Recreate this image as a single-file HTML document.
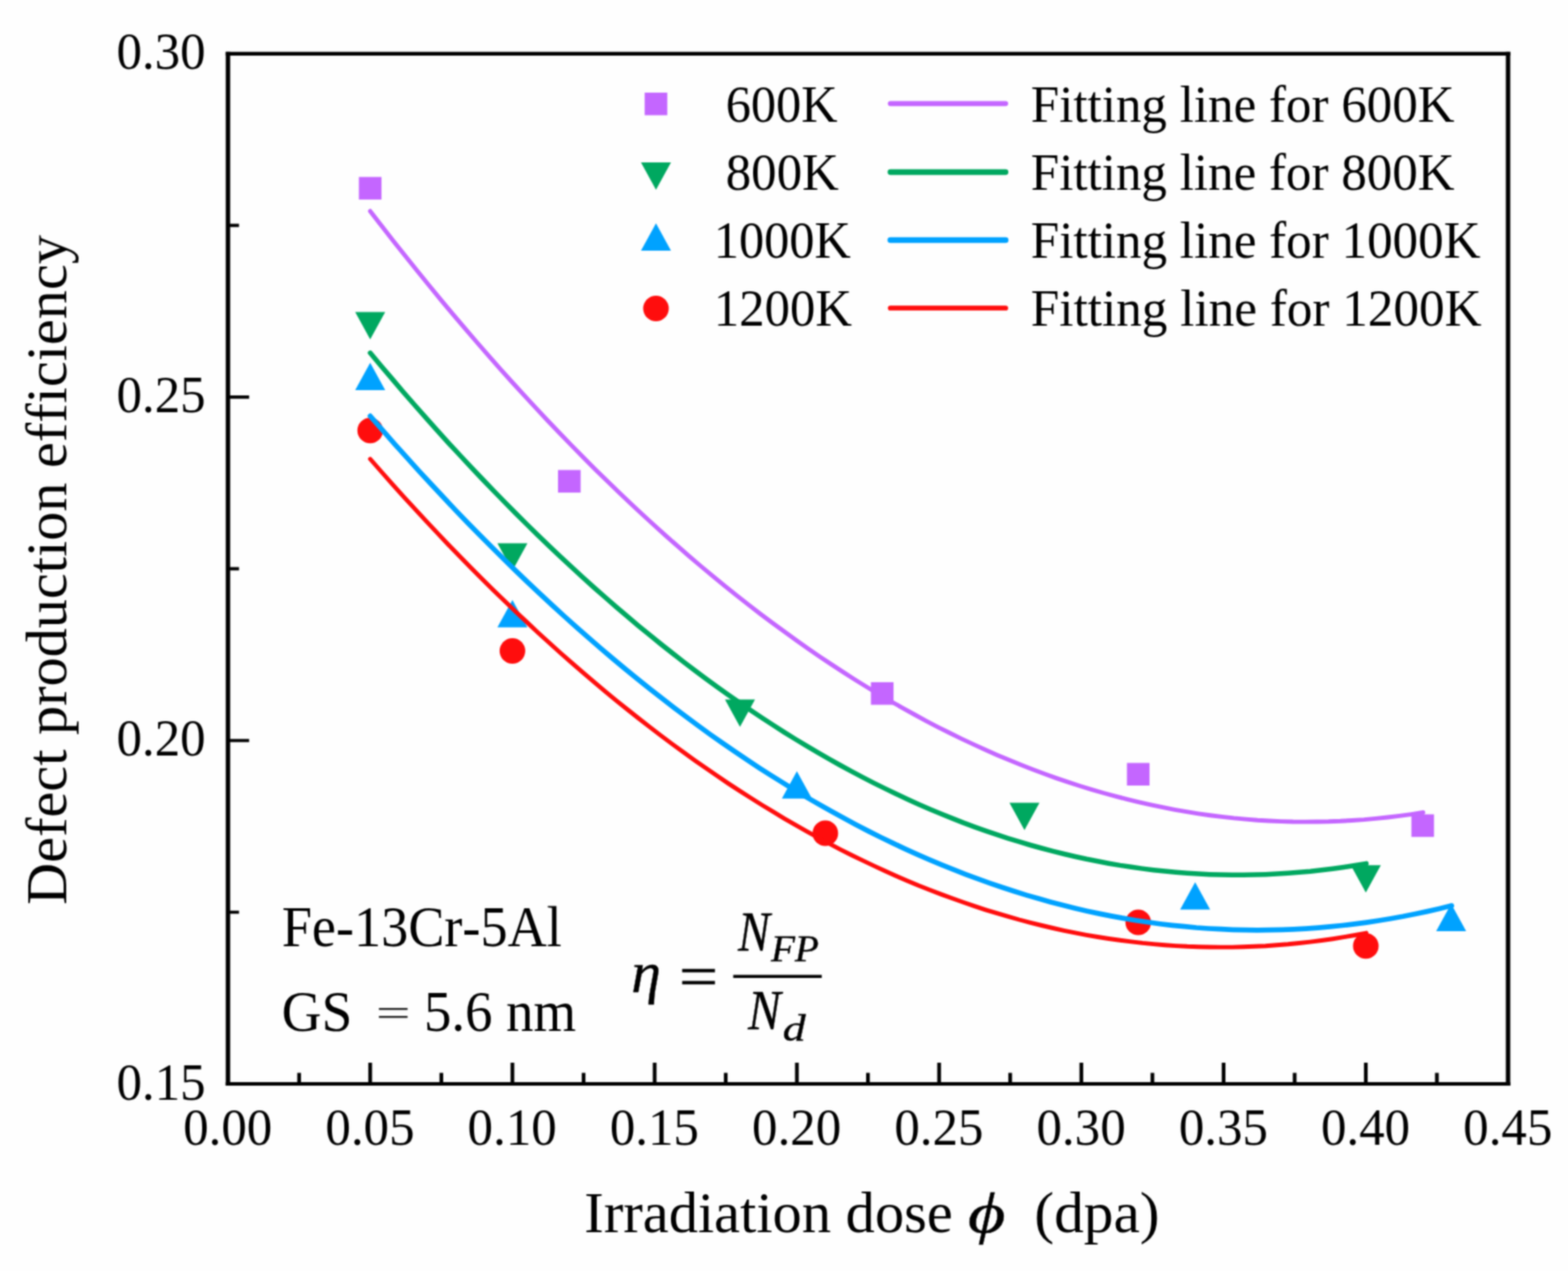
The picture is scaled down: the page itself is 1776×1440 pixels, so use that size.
<!DOCTYPE html>
<html lang="en"><head><meta charset="utf-8"><title>Defect production efficiency</title>
<style>html,body{margin:0;padding:0;background:#fefefe;}body{width:1776px;height:1440px;}svg{display:block;}</style>
</head><body>
<svg width="1776" height="1440" viewBox="0 0 1776 1440" font-family='"Liberation Serif", serif' fill="#000">
<filter id="soft" x="0" y="0" width="1776" height="1440" filterUnits="userSpaceOnUse" color-interpolation-filters="sRGB"><feConvolveMatrix order="5" kernelMatrix="0.00090 0.00705 0.01410 0.00705 0.00090 0.00705 0.05522 0.11045 0.05522 0.00705 0.01410 0.11045 0.22090 0.11045 0.01410 0.00705 0.05522 0.11045 0.05522 0.00705 0.00090 0.00705 0.01410 0.00705 0.00090" divisor="1" edgeMode="duplicate" preserveAlpha="false"/></filter>
<g filter="url(#soft)">
<rect width="1776" height="1440" fill="#fefefe"/>
<rect x="406.50" y="200.50" width="25.6" height="25.6" fill="#c466ff"/>
<rect x="632.04" y="532.50" width="25.6" height="25.6" fill="#c466ff"/>
<rect x="986.46" y="772.90" width="25.6" height="25.6" fill="#c466ff"/>
<rect x="1276.44" y="864.40" width="25.6" height="25.6" fill="#c466ff"/>
<rect x="1598.64" y="922.60" width="25.6" height="25.6" fill="#c466ff"/>
<polygon points="402.30,353.50 436.30,353.50 419.30,384.50" fill="#00a860"/>
<polygon points="563.40,615.50 597.40,615.50 580.40,646.50" fill="#00a860"/>
<polygon points="821.16,792.50 855.16,792.50 838.16,823.50" fill="#00a860"/>
<polygon points="1143.36,909.50 1177.36,909.50 1160.36,940.50" fill="#00a860"/>
<polygon points="1530.00,980.30 1564.00,980.30 1547.00,1011.30" fill="#00a860"/>
<polygon points="402.30,442.10 436.30,442.10 419.30,411.10" fill="#00a2ff"/>
<polygon points="563.40,710.70 597.40,710.70 580.40,679.70" fill="#00a2ff"/>
<polygon points="885.60,904.70 919.60,904.70 902.60,873.70" fill="#00a2ff"/>
<polygon points="1336.68,1030.50 1370.68,1030.50 1353.68,999.50" fill="#00a2ff"/>
<polygon points="1626.66,1055.10 1660.66,1055.10 1643.66,1024.10" fill="#00a2ff"/>
<circle cx="419.30" cy="487.70" r="14.5" fill="#ff0d0d"/>
<circle cx="580.40" cy="737.40" r="14.5" fill="#ff0d0d"/>
<circle cx="934.82" cy="944.00" r="14.5" fill="#ff0d0d"/>
<circle cx="1289.24" cy="1045.00" r="14.5" fill="#ff0d0d"/>
<circle cx="1547.00" cy="1071.70" r="14.5" fill="#ff0d0d"/>
<path d="M419.3,239.2 L432.7,256.6 L446.1,273.7 L459.5,290.6 L472.9,307.3 L486.3,323.8 L499.7,340.1 L513.1,356.1 L526.5,371.9 L539.9,387.5 L553.3,402.9 L566.7,418.1 L580.1,433.0 L593.5,447.7 L606.9,462.2 L620.3,476.5 L633.7,490.5 L647.1,504.4 L660.5,518.0 L673.9,531.4 L687.3,544.6 L700.7,557.5 L714.1,570.2 L727.5,582.7 L740.9,595.0 L754.3,607.1 L767.7,618.9 L781.1,630.6 L794.5,642.0 L807.9,653.2 L821.3,664.1 L834.7,674.9 L848.1,685.4 L861.5,695.7 L874.9,705.8 L888.3,715.6 L901.7,725.3 L915.1,734.7 L928.5,743.9 L941.9,752.9 L955.3,761.6 L968.7,770.2 L982.1,778.5 L995.5,786.6 L1008.9,794.5 L1022.3,802.1 L1035.7,809.5 L1049.1,816.8 L1062.5,823.8 L1075.9,830.5 L1089.3,837.1 L1102.7,843.4 L1116.1,849.5 L1129.5,855.4 L1142.9,861.1 L1156.3,866.5 L1169.7,871.8 L1183.1,876.8 L1196.5,881.6 L1209.9,886.1 L1223.3,890.5 L1236.7,894.6 L1250.1,898.5 L1263.5,902.2 L1276.9,905.6 L1290.3,908.9 L1303.7,911.9 L1317.1,914.7 L1330.5,917.3 L1343.9,919.6 L1357.3,921.8 L1370.7,923.7 L1384.1,925.4 L1397.5,926.9 L1410.9,928.1 L1424.3,929.2 L1437.7,930.0 L1451.1,930.6 L1464.5,931.0 L1477.9,931.1 L1491.3,931.0 L1504.7,930.8 L1518.1,930.3 L1531.5,929.5 L1544.9,928.6 L1558.3,927.4 L1571.7,926.0 L1585.1,924.4 L1598.5,922.6 L1611.9,920.5" fill="none" stroke="#c466ff" stroke-width="4.9" stroke-linecap="round" stroke-linejoin="round"/>
<path d="M419.3,399.8 L432.0,414.9 L444.7,429.9 L457.3,444.7 L470.0,459.2 L482.7,473.6 L495.4,487.8 L508.0,501.8 L520.7,515.5 L533.4,529.1 L546.1,542.5 L558.7,555.7 L571.4,568.7 L584.1,581.5 L596.8,594.1 L609.4,606.5 L622.1,618.7 L634.8,630.7 L647.5,642.5 L660.2,654.2 L672.8,665.6 L685.5,676.8 L698.2,687.8 L710.9,698.7 L723.5,709.3 L736.2,719.7 L748.9,730.0 L761.6,740.0 L774.2,749.9 L786.9,759.5 L799.6,769.0 L812.3,778.2 L824.9,787.3 L837.6,796.1 L850.3,804.8 L863.0,813.3 L875.7,821.5 L888.3,829.6 L901.0,837.5 L913.7,845.2 L926.4,852.7 L939.0,859.9 L951.7,867.0 L964.4,873.9 L977.1,880.6 L989.7,887.1 L1002.4,893.4 L1015.1,899.5 L1027.8,905.5 L1040.4,911.2 L1053.1,916.7 L1065.8,922.0 L1078.5,927.1 L1091.1,932.1 L1103.8,936.8 L1116.5,941.3 L1129.2,945.7 L1141.9,949.8 L1154.5,953.7 L1167.2,957.5 L1179.9,961.0 L1192.6,964.4 L1205.2,967.5 L1217.9,970.5 L1230.6,973.3 L1243.3,975.8 L1255.9,978.2 L1268.6,980.4 L1281.3,982.3 L1294.0,984.1 L1306.6,985.7 L1319.3,987.1 L1332.0,988.3 L1344.7,989.3 L1357.4,990.1 L1370.0,990.7 L1382.7,991.1 L1395.4,991.3 L1408.1,991.3 L1420.7,991.1 L1433.4,990.7 L1446.1,990.1 L1458.8,989.3 L1471.4,988.3 L1484.1,987.2 L1496.8,985.8 L1509.5,984.2 L1522.1,982.5 L1534.8,980.5 L1547.5,978.4" fill="none" stroke="#00a860" stroke-width="5.5" stroke-linecap="round" stroke-linejoin="round"/>
<path d="M419.3,471.3 L433.1,487.2 L446.8,502.8 L460.6,518.2 L474.3,533.3 L488.1,548.3 L501.9,563.0 L515.6,577.6 L529.4,591.9 L543.2,606.0 L556.9,619.8 L570.7,633.5 L584.4,646.9 L598.2,660.1 L612.0,673.1 L625.7,685.9 L639.5,698.5 L653.3,710.8 L667.0,722.9 L680.8,734.8 L694.5,746.5 L708.3,758.0 L722.1,769.2 L735.8,780.3 L749.6,791.1 L763.4,801.7 L777.1,812.1 L790.9,822.2 L804.6,832.2 L818.4,841.9 L832.2,851.4 L845.9,860.7 L859.7,869.8 L873.5,878.6 L887.2,887.2 L901.0,895.7 L914.7,903.9 L928.5,911.8 L942.3,919.6 L956.0,927.1 L969.8,934.5 L983.6,941.6 L997.3,948.5 L1011.1,955.1 L1024.8,961.6 L1038.6,967.8 L1052.4,973.8 L1066.1,979.6 L1079.9,985.2 L1093.7,990.6 L1107.4,995.7 L1121.2,1000.6 L1134.9,1005.3 L1148.7,1009.8 L1162.5,1014.1 L1176.2,1018.1 L1190.0,1022.0 L1203.8,1025.6 L1217.5,1029.0 L1231.3,1032.2 L1245.0,1035.1 L1258.8,1037.9 L1272.6,1040.4 L1286.3,1042.7 L1300.1,1044.8 L1313.9,1046.7 L1327.6,1048.3 L1341.4,1049.7 L1355.1,1051.0 L1368.9,1052.0 L1382.7,1052.7 L1396.4,1053.3 L1410.2,1053.6 L1424.0,1053.8 L1437.7,1053.7 L1451.5,1053.4 L1465.2,1052.8 L1479.0,1052.1 L1492.8,1051.1 L1506.5,1049.9 L1520.3,1048.5 L1534.1,1046.9 L1547.8,1045.1 L1561.6,1043.0 L1575.3,1040.7 L1589.1,1038.3 L1602.9,1035.5 L1616.6,1032.6 L1630.4,1029.5 L1644.2,1026.1" fill="none" stroke="#00a2ff" stroke-width="5.7" stroke-linecap="round" stroke-linejoin="round"/>
<path d="M419.3,520.0 L432.0,534.5 L444.7,548.8 L457.3,562.8 L470.0,576.7 L482.7,590.4 L495.4,603.9 L508.0,617.2 L520.7,630.3 L533.4,643.2 L546.1,655.9 L558.7,668.5 L571.4,680.8 L584.1,693.0 L596.8,704.9 L609.4,716.7 L622.1,728.3 L634.8,739.7 L647.5,750.9 L660.2,761.9 L672.8,772.7 L685.5,783.3 L698.2,793.8 L710.9,804.0 L723.5,814.0 L736.2,823.9 L748.9,833.6 L761.6,843.1 L774.2,852.3 L786.9,861.4 L799.6,870.3 L812.3,879.1 L824.9,887.6 L837.6,895.9 L850.3,904.0 L863.0,912.0 L875.7,919.7 L888.3,927.3 L901.0,934.7 L913.7,941.9 L926.4,948.9 L939.0,955.7 L951.7,962.3 L964.4,968.7 L977.1,974.9 L989.7,980.9 L1002.4,986.8 L1015.1,992.4 L1027.8,997.9 L1040.4,1003.2 L1053.1,1008.2 L1065.8,1013.1 L1078.5,1017.8 L1091.1,1022.3 L1103.8,1026.6 L1116.5,1030.8 L1129.2,1034.7 L1141.9,1038.4 L1154.5,1042.0 L1167.2,1045.3 L1179.9,1048.5 L1192.6,1051.5 L1205.2,1054.3 L1217.9,1056.9 L1230.6,1059.3 L1243.3,1061.5 L1255.9,1063.5 L1268.6,1065.3 L1281.3,1066.9 L1294.0,1068.4 L1306.6,1069.6 L1319.3,1070.7 L1332.0,1071.6 L1344.7,1072.3 L1357.4,1072.7 L1370.0,1073.0 L1382.7,1073.1 L1395.4,1073.1 L1408.1,1072.8 L1420.7,1072.3 L1433.4,1071.7 L1446.1,1070.8 L1458.8,1069.8 L1471.4,1068.5 L1484.1,1067.1 L1496.8,1065.5 L1509.5,1063.7 L1522.1,1061.7 L1534.8,1059.5 L1547.5,1057.1" fill="none" stroke="#ff0d0d" stroke-width="4.9" stroke-linecap="round" stroke-linejoin="round"/>
<path d="M255.70,60.9 H1710.60 M255.70,1228.0 H1710.60" fill="none" stroke="#000" stroke-width="4.2"/>
<path d="M258.2,58.80 V1230.10 M1708.1,58.80 V1230.10" fill="none" stroke="#000" stroke-width="5.0"/>
<path d="M338.8,1228.0 v-12.5 M419.3,1228.0 v-24 M499.9,1228.0 v-12.5 M580.4,1228.0 v-24 M661.0,1228.0 v-12.5 M741.5,1228.0 v-24 M822.0,1228.0 v-12.5 M902.6,1228.0 v-24 M983.1,1228.0 v-12.5 M1063.7,1228.0 v-24 M1144.2,1228.0 v-12.5 M1224.8,1228.0 v-24 M1305.3,1228.0 v-12.5 M1385.9,1228.0 v-24 M1466.4,1228.0 v-12.5 M1547.0,1228.0 v-24 M1627.5,1228.0 v-12.5" stroke="#000" stroke-width="4.2" fill="none"/>
<path d="M258.2,1033.5 h12.5 M258.2,839.0 h24 M258.2,644.4 h12.5 M258.2,449.9 h24 M258.2,255.4 h12.5" stroke="#000" stroke-width="3.6" fill="none"/>
<rect x="730.20" y="104.95" width="25.6" height="25.6" fill="#c466ff"/>
<path d="M1008.5,117.3 H1139" stroke="#c466ff" stroke-width="5.7" stroke-linecap="round"/>
<polygon points="726.00,184.00 760.00,184.00 743.00,215.00" fill="#00a860"/>
<path d="M1008.5,195.0 H1139" stroke="#00a860" stroke-width="6.3" stroke-linecap="round"/>
<polygon points="726.00,283.90 760.00,283.90 743.00,252.90" fill="#00a2ff"/>
<path d="M1008.5,272.1 H1139" stroke="#00a2ff" stroke-width="6.5" stroke-linecap="round"/>
<circle cx="743.00" cy="349.40" r="14.5" fill="#ff0d0d"/>
<path d="M1008.5,349.0 H1139" stroke="#ff0d0d" stroke-width="5.7" stroke-linecap="round"/>
<path d="M830.5,1106.25 H930.75" stroke="#000" stroke-width="3.3"/>
<g style="font-kerning:none;font-variant-ligatures:none">
<text transform="translate(207.40,1297.30) scale(0.9620,1.0000)" font-size="60.0" xml:space="preserve">0.00</text>
<text transform="translate(368.53,1297.30) scale(0.9620,1.0000)" font-size="60.0" xml:space="preserve">0.05</text>
<text transform="translate(529.60,1297.30) scale(0.9620,1.0000)" font-size="60.0" xml:space="preserve">0.10</text>
<text transform="translate(690.73,1297.30) scale(0.9620,1.0000)" font-size="60.0" xml:space="preserve">0.15</text>
<text transform="translate(851.80,1297.30) scale(0.9620,1.0000)" font-size="60.0" xml:space="preserve">0.20</text>
<text transform="translate(1012.93,1297.30) scale(0.9620,1.0000)" font-size="60.0" xml:space="preserve">0.25</text>
<text transform="translate(1174.00,1297.30) scale(0.9620,1.0000)" font-size="60.0" xml:space="preserve">0.30</text>
<text transform="translate(1335.13,1297.30) scale(0.9620,1.0000)" font-size="60.0" xml:space="preserve">0.35</text>
<text transform="translate(1496.20,1297.30) scale(0.9620,1.0000)" font-size="60.0" xml:space="preserve">0.40</text>
<text transform="translate(1657.33,1297.30) scale(0.9620,1.0000)" font-size="60.0" xml:space="preserve">0.45</text>
<text transform="translate(131.96,1245.50) scale(0.9620,1.0000)" font-size="60.0" xml:space="preserve">0.15</text>
<text transform="translate(131.90,856.47) scale(0.9620,1.0000)" font-size="60.0" xml:space="preserve">0.20</text>
<text transform="translate(131.96,467.43) scale(0.9620,1.0000)" font-size="60.0" xml:space="preserve">0.25</text>
<text transform="translate(131.90,78.40) scale(0.9620,1.0000)" font-size="60.0" xml:space="preserve">0.30</text>
<text transform="translate(661.86,1396.25) scale(1.0032,1.0000)" font-size="66" xml:space="preserve">Irradiation dose</text>
<text transform="translate(1096.35,1396.25) scale(1.2859,1.0000)" font-size="64" font-style="italic" stroke="#000" stroke-width="0.4" xml:space="preserve">ϕ</text>
<text transform="translate(1171.56,1396.25) scale(1.0188,1.0000)" font-size="66" xml:space="preserve">(dpa)</text>
<text transform="translate(75.00,1025.15) rotate(-90) scale(1.0006,1.0000)" font-size="66" style="font-variant-ligatures:common-ligatures" xml:space="preserve">Defect production efficiency</text>
<text transform="translate(821.97,137.60) scale(0.9644,1.0000)" font-size="59.2" xml:space="preserve">600K</text>
<text transform="translate(1167.59,137.60) scale(0.9764,1.0000)" font-size="59.2" xml:space="preserve">Fitting line for 600K</text>
<text transform="translate(822.04,215.00) scale(0.9734,1.0000)" font-size="59.2" xml:space="preserve">800K</text>
<text transform="translate(1167.59,215.00) scale(0.9764,1.0000)" font-size="59.2" xml:space="preserve">Fitting line for 800K</text>
<text transform="translate(808.48,291.60) scale(0.9640,1.0000)" font-size="59.2" xml:space="preserve">1000K</text>
<text transform="translate(1167.59,291.60) scale(0.9775,1.0000)" font-size="59.2" xml:space="preserve">Fitting line for 1000K</text>
<text transform="translate(808.44,368.60) scale(0.9721,1.0000)" font-size="59.2" xml:space="preserve">1200K</text>
<text transform="translate(1167.58,368.60) scale(0.9799,1.0000)" font-size="59.2" xml:space="preserve">Fitting line for 1200K</text>
<text transform="translate(319.24,1072.40) scale(0.9442,1.0000)" font-size="65" xml:space="preserve">Fe-13Cr-5Al</text>
<text transform="translate(319.00,1168.00) scale(0.9622,1.0000)" font-size="65" xml:space="preserve">GS</text>
<text transform="translate(425.78,1163.40) scale(1.0717,0.7200)" font-size="65" fill="#222" xml:space="preserve">=</text>
<text transform="translate(480.16,1168.00) scale(0.9543,1.0000)" font-size="65" xml:space="preserve">5.6 nm</text>
<text transform="translate(714.97,1124.30) scale(1.0473,1.0000)" font-size="64.7" font-style="italic" stroke="#000" stroke-width="0.4" xml:space="preserve">η</text>
<text transform="translate(769.08,1129.40) scale(1.1746,1.0000)" font-size="67" stroke="#000" stroke-width="0.4" xml:space="preserve">=</text>
<text transform="translate(836.04,1077.00) scale(0.8515,1.0000)" font-size="63.4" font-style="italic" stroke="#000" stroke-width="0.4" xml:space="preserve">N</text>
<text transform="translate(873.16,1089.30) scale(1.0484,1.0000)" font-size="42.4" font-style="italic" stroke="#000" stroke-width="0.4" xml:space="preserve">FP</text>
<text transform="translate(847.31,1165.75) scale(0.8788,1.0000)" font-size="63.4" font-style="italic" stroke="#000" stroke-width="0.4" xml:space="preserve">N</text>
<text transform="translate(886.44,1179.30) scale(1.2131,1.0000)" font-size="43" font-style="italic" stroke="#000" stroke-width="0.4" xml:space="preserve">d</text>
</g>
</g>
</svg>
</body></html>
